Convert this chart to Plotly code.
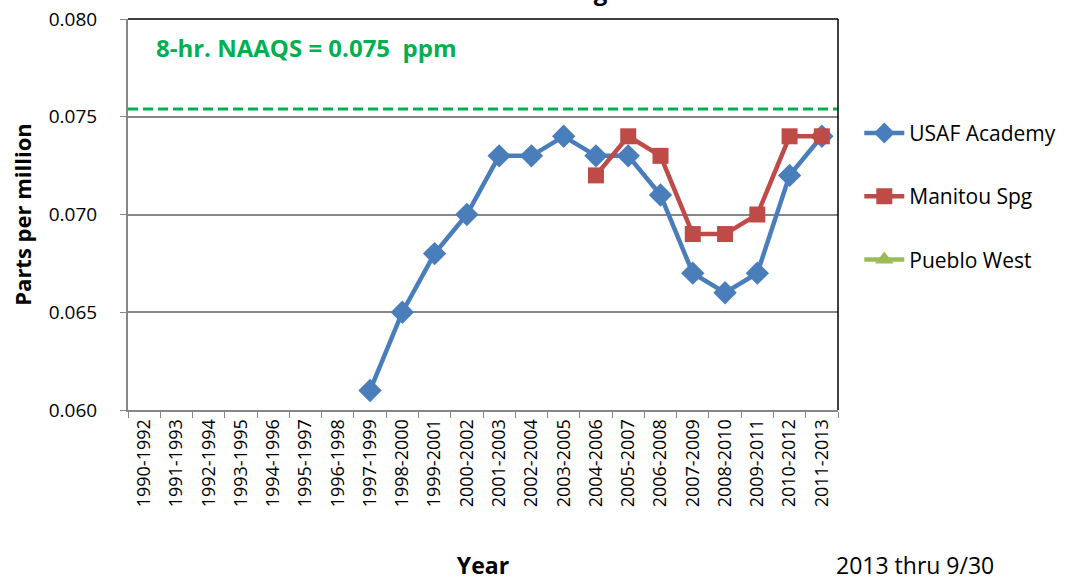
import plotly.graph_objects as go

# 3-year periods on the category axis
periods = [f"{y}-{y + 2}" for y in range(1990, 2012)]

usaf_periods = ["1997-1999", "1998-2000", "1999-2001", "2000-2002", "2001-2003",
                "2002-2004", "2003-2005", "2004-2006", "2005-2007", "2006-2008",
                "2007-2009", "2008-2010", "2009-2011", "2010-2012", "2011-2013"]
usaf_values = [0.061, 0.065, 0.068, 0.070, 0.073, 0.073, 0.074, 0.073, 0.073,
               0.071, 0.067, 0.066, 0.067, 0.072, 0.074]

manitou_periods = ["2004-2006", "2005-2007", "2006-2008", "2007-2009",
                   "2008-2010", "2009-2011", "2010-2012", "2011-2013"]
manitou_values = [0.072, 0.074, 0.073, 0.069, 0.069, 0.070, 0.074, 0.074]

# Pueblo West has no values shown, only its legend entry
pueblo_periods = ["1990-1992"]
pueblo_values = [None]

naaqs_level = 0.0754
y_ticks = [0.060, 0.065, 0.070, 0.075, 0.080]

BLUE = "#4a7ebb"
RED = "#be4b48"
GREEN_LIGHT = "#9bbb59"
NAAQS_GREEN = "#00b050"
GRID = "#868686"
FONT = "'Open Sans', sans-serif"

fig = go.Figure()
fig.add_trace(go.Scatter(
    x=usaf_periods, y=usaf_values, name="USAF Academy", mode="lines+markers",
    line=dict(color=BLUE, width=4.5),
    marker=dict(symbol="diamond", size=18, color=BLUE),
    legendgroup="a",
))
fig.add_trace(go.Scatter(
    x=manitou_periods, y=manitou_values, name="Manitou Spg", mode="lines+markers",
    line=dict(color=RED, width=4.5),
    marker=dict(symbol="square", size=16, color=RED),
    legendgroup="b",
))
fig.add_trace(go.Scatter(
    x=pueblo_periods, y=pueblo_values, name="Pueblo West", mode="lines+markers",
    line=dict(color=GREEN_LIGHT, width=4.5),
    marker=dict(symbol="triangle-up", size=16, color=GREEN_LIGHT),
    legendgroup="c",
))

shapes = [
    # NAAQS standard
    dict(type="line", xref="paper", x0=0, x1=1, yref="y", y0=naaqs_level, y1=naaqs_level,
         line=dict(color=NAAQS_GREEN, width=3, dash="10px,5px")),
    # black top / right frame of the plot area
    dict(type="line", xref="paper", x0=0, x1=1, yref="paper", y0=1, y1=1,
         line=dict(color="black", width=1.5)),
    dict(type="line", xref="paper", x0=1, x1=1, yref="paper", y0=0, y1=1,
         line=dict(color="black", width=1.5)),
]

annotations = [
    dict(text="<b>Ozone 3-Year Averages</b>", xref="paper", yref="paper",
         x=0.52, y=1, yshift=10, yanchor="bottom", showarrow=False,
         font=dict(family=FONT, size=24, color="black")),
    dict(text="<b>8-hr. NAAQS = 0.075  ppm</b>", xref="paper", yref="paper",
         x=0.036, y=0.928, xanchor="left", yanchor="middle", showarrow=False,
         font=dict(family=FONT, size=24, color=NAAQS_GREEN)),
    dict(text="2013 thru 9/30", xref="paper", yref="paper",
         x=1.0, y=0, xshift=-4, yshift=-155, xanchor="left", yanchor="middle",
         showarrow=False, font=dict(family=FONT, size=23, color="black")),
]

fig.update_layout(
    width=1079, height=581,
    paper_bgcolor="white", plot_bgcolor="white",
    margin=dict(l=128, r=241, t=19, b=171),
    font=dict(family=FONT, color="black"),
    shapes=shapes,
    annotations=annotations,
    showlegend=True,
    legend=dict(x=1.03, y=0.76, xanchor="left", yanchor="top",
                font=dict(family=FONT, size=21, color="black"),
                tracegroupgap=33, itemwidth=40),
    xaxis=dict(
        type="category", categoryorder="array", categoryarray=periods,
        tickvals=periods, range=[-0.5, len(periods) - 0.5],
        tickangle=-90, tickfont=dict(family=FONT, size=18, color="black"),
        showline=True, linecolor=GRID, linewidth=2,
        ticks="outside", tickson="boundaries", tickcolor=GRID, ticklen=6,
        showgrid=False, automargin=False,
        title=dict(text="<b>Year</b>", font=dict(family=FONT, size=23), standoff=55),
    ),
    yaxis=dict(
        range=[0.060, 0.080], tickvals=y_ticks, tickformat=".3f",
        tickfont=dict(family=FONT, size=19, color="black"),
        showline=True, linecolor=GRID, linewidth=2,
        ticks="outside", tickcolor=GRID, ticklen=6, ticklabelstandoff=19,
        showgrid=True, gridcolor=GRID, gridwidth=1.5, zeroline=False,
        automargin=False,
        title=dict(text="<b>Parts per million</b>", font=dict(family=FONT, size=22),
                   standoff=11),
    ),
)

fig.write_html("out.html", config={"displayModeBar": False},
               post_script="document.body.style.margin='0';")
